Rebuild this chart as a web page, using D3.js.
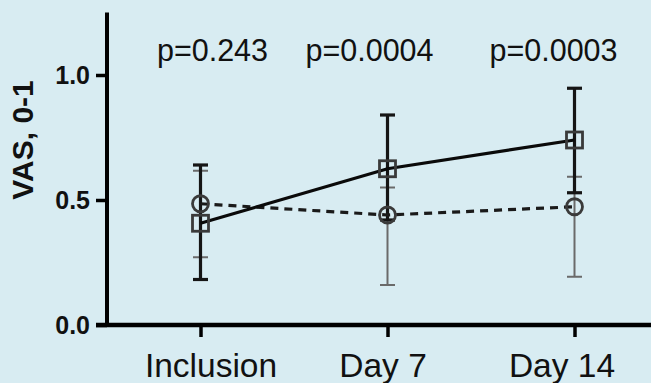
<!DOCTYPE html>
<html>
<head>
<meta charset="utf-8">
<script src="https://cdn.jsdelivr.net/npm/d3@7"></script>
<style>
  html, body { margin: 0; padding: 0; background: #d8ecf2; }
  svg { display: block; font-family: "Liberation Sans", Arial, sans-serif; }
</style>
</head>
<body>
<script>
// ---- data ----
const categories = ["Inclusion", "Day 7", "Day 14"];
// square series (solid line)
const squareMid  = [0.407, 0.625, 0.740];
const squareHigh = [0.640, 0.840, 0.947];
const squareLow  = [0.182, 0.420, 0.529];
// circle series (dashed line)
const circleMid  = [0.485, 0.440, 0.473];
const circleHigh = [0.617, 0.550, 0.593];
const circleLow  = [0.271, 0.160, 0.193];
const pLabels = ["p=0.243", "p=0.0004", "p=0.0003"];
const yTicks = [0.0, 0.5, 1.0];

// ---- layout ----
const W = 651, H = 383;
const svg = d3.select("body").append("svg").attr("width", W).attr("height", H);
svg.append("rect").attr("width", W).attr("height", H).attr("fill", "#d8ecf2");

const x = d3.scalePoint().domain(categories).range([107, 668]).padding(0.5);
const y = d3.scaleLinear().domain([0, 1.25]).range([325, 12.5]);

// axes
const yAxis = svg.append("g").attr("transform", "translate(107,0)")
  .call(d3.axisLeft(y).tickValues(yTicks).tickFormat(d3.format(".1f")).tickSize(11).tickPadding(6));
yAxis.select(".domain").remove();
yAxis.selectAll(".tick line").attr("stroke", "#000").attr("stroke-width", 3.5);
yAxis.selectAll(".tick text").attr("font-size", 25).attr("font-weight", "bold").attr("fill", "#111")
  .attr("font-family", "'Liberation Sans', Arial, sans-serif");
svg.append("line").attr("x1", 107).attr("x2", 107).attr("y1", y(1.25)).attr("y2", 327)
  .attr("stroke", "#000").attr("stroke-width", 4);

const xAxis = svg.append("g").attr("transform", "translate(0,325)")
  .call(d3.axisBottom(x).tickSize(12).tickPadding(16));
xAxis.select(".domain").remove();
xAxis.selectAll(".tick line").attr("stroke", "#000").attr("stroke-width", 3.5);
xAxis.selectAll(".tick text").attr("font-size", 33.5).attr("fill", "#111")
  .attr("font-family", "'Liberation Sans', Arial, sans-serif")
  .attr("dx", (d, i) => [10, -5, -13][i]);
svg.append("line").attr("x1", 96).attr("x2", W).attr("y1", 325).attr("y2", 325)
  .attr("stroke", "#000").attr("stroke-width", 4.5);

// y label
svg.append("text")
  .attr("transform", `translate(33,${y(0.74)}) rotate(-90)`)
  .attr("text-anchor", "middle")
  .attr("font-size", 30).attr("font-weight", "bold").attr("fill", "#111")
  .text("VAS, 0-1");

// p-value annotations
svg.selectAll(".plab").data(pLabels).join("text")
  .attr("class", "plab")
  .attr("x", (d, i) => x(categories[i]) + [12, -18, -21][i])
  .attr("y", 61)
  .attr("text-anchor", "middle")
  .attr("font-size", 30.5).attr("fill", "#111")
  .text(d => d);

// error bars
function errorBars(mids, lows, highs, color, width, cap) {
  const g = svg.append("g");
  categories.forEach((c, i) => {
    const cx = x(c);
    g.append("line").attr("x1", cx).attr("x2", cx).attr("y1", y(lows[i])).attr("y2", y(highs[i]))
      .attr("stroke", color).attr("stroke-width", width);
    [lows[i], highs[i]].forEach(v => {
      g.append("line").attr("x1", cx - cap / 2).attr("x2", cx + cap / 2).attr("y1", y(v)).attr("y2", y(v))
        .attr("stroke", color).attr("stroke-width", width);
    });
  });
}
errorBars(circleMid, circleLow, circleHigh, "#6a6a6a", 2, 15);
errorBars(squareMid, squareLow, squareHigh, "#151515", 3.2, 15);

// lines
const line = d3.line().x(d => x(d[0])).y(d => y(d[1]));
svg.append("path").datum(categories.map((c, i) => [c, circleMid[i]]))
  .attr("d", line).attr("fill", "none").attr("stroke", "#1a1a1a").attr("stroke-width", 3.2)
  .attr("stroke-dasharray", "8,6");
svg.append("path").datum(categories.map((c, i) => [c, squareMid[i]]))
  .attr("d", line).attr("fill", "none").attr("stroke", "#0a0a0a").attr("stroke-width", 3.2);

// markers
svg.selectAll(".circ").data(circleMid).join("circle")
  .attr("class", "circ")
  .attr("cx", (d, i) => x(categories[i])).attr("cy", d => y(d)).attr("r", 8)
  .attr("fill", "none").attr("stroke", "#3a3a3a").attr("stroke-width", 2.8);
svg.selectAll(".sq").data(squareMid).join("rect")
  .attr("class", "sq")
  .attr("x", (d, i) => x(categories[i]) - 8).attr("y", d => y(d) - 8)
  .attr("width", 16).attr("height", 16)
  .attr("fill", "none").attr("stroke", "#3a3a3a").attr("stroke-width", 2.8);
</script>
</body>
</html>
